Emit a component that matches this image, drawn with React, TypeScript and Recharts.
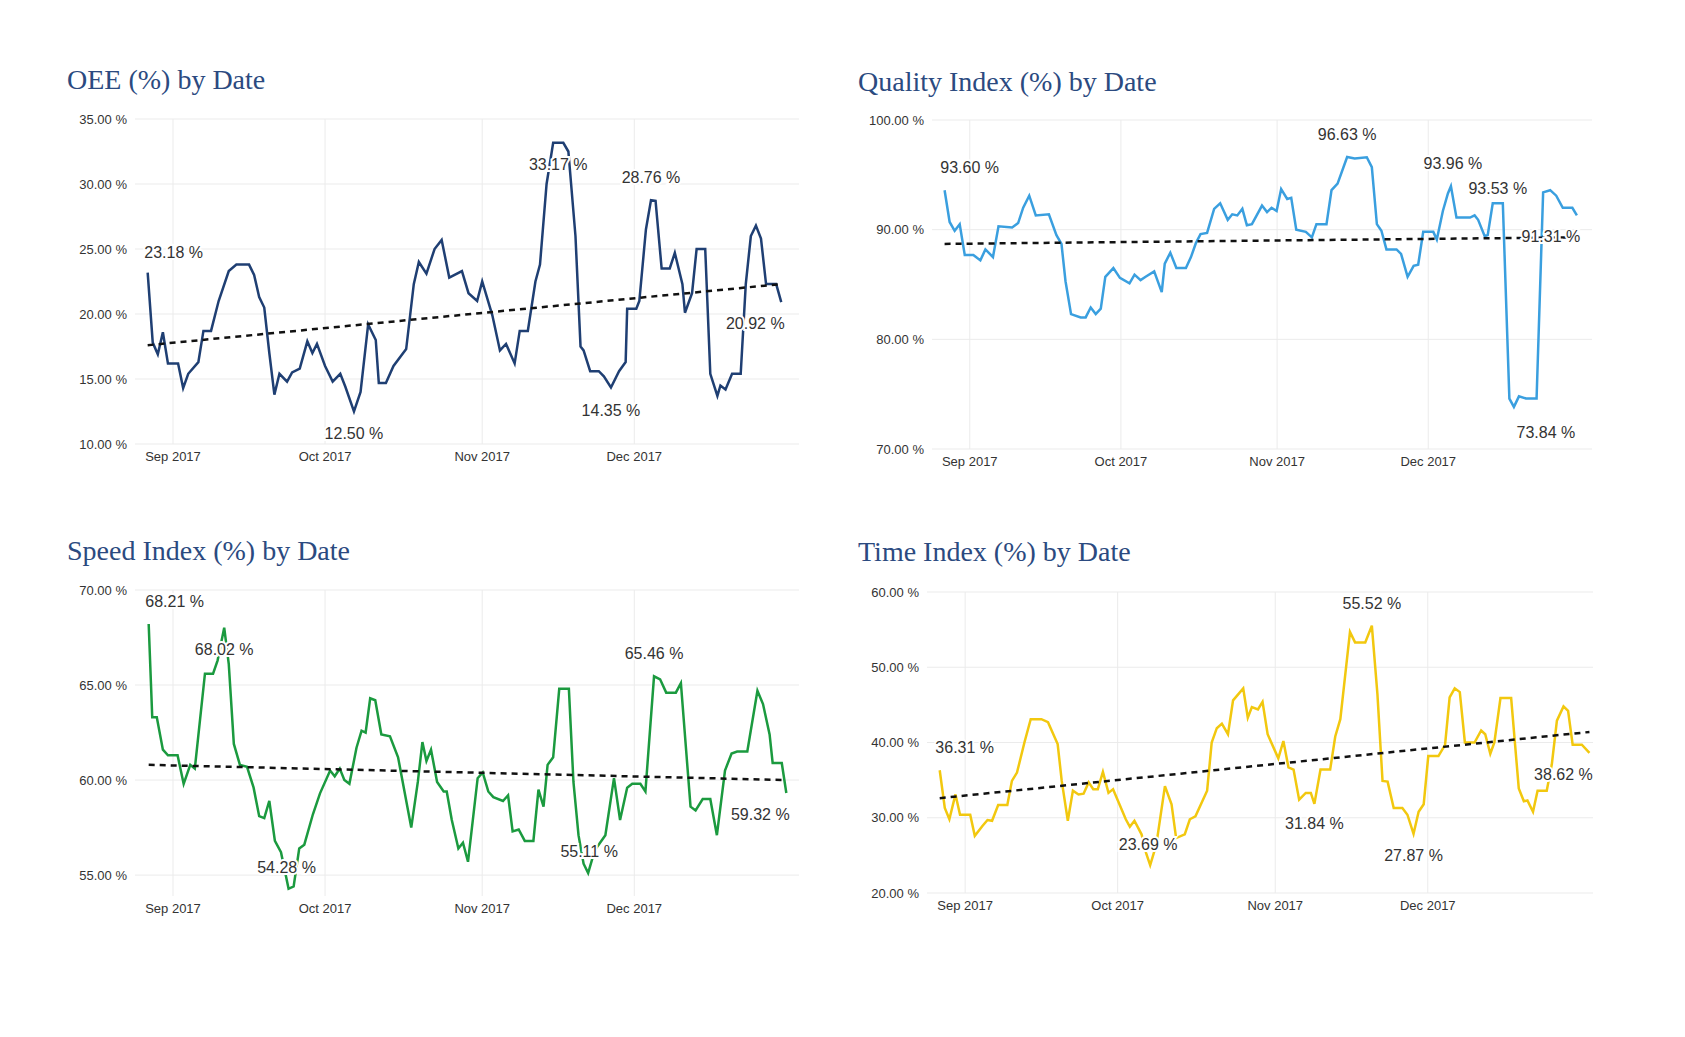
import { LineChart, Line, XAxis, YAxis, CartesianGrid, ReferenceDot, ReferenceLine } from 'recharts'

// day 0 = 27 Aug 2017
const monthTicks = [5, 35, 66, 96]
const monthLabels = ['Sep 2017', 'Oct 2017', 'Nov 2017', 'Dec 2017']

const oee = [
  [0, 23.18], [1, 17.8], [2, 16.9], [3, 18.6], [4, 16.2], [6, 16.2], [7, 14.3], [8, 15.4], [10, 16.3], [11, 18.7],
  [12.5, 18.7], [14, 21], [16, 23.3], [17.5, 23.8], [20, 23.8], [21, 23], [22, 21.3], [23, 20.5], [24, 17], [25, 13.8],
  [26, 15.4], [27.5, 14.8], [28.5, 15.5], [30, 15.8], [31.5, 17.9], [32.5, 17], [33.4, 17.7], [35, 16], [36.5, 14.8],
  [38, 15.4], [39, 14.4], [40.7, 12.5], [42, 14], [43.5, 19.2], [45, 18], [45.6, 14.7], [47, 14.7], [48.5, 16],
  [51, 17.3], [52.5, 22.3], [53.5, 24], [55, 23.1], [56.6, 25], [58, 25.7], [59.5, 22.8], [62, 23.3], [63.3, 21.6],
  [65, 21], [66, 22.5], [68, 19.9], [69.5, 17.2], [70.7, 17.7], [72.4, 16.2], [73.4, 18.7], [75, 18.7], [76.5, 22.5],
  [77.4, 23.8], [78.7, 30], [80, 33.17], [82, 33.17], [83, 32.5], [84.4, 26], [85.4, 17.5], [86, 17.2], [87.3, 15.6],
  [89, 15.6], [90, 15.2], [91.4, 14.35], [93, 15.6], [94.3, 16.3], [94.6, 20.4], [96.4, 20.4], [97, 21], [98.3, 26.5],
  [99.3, 28.76], [100.2, 28.7], [101.4, 23.5], [103, 23.5], [104, 24.7], [105.5, 22.3], [106, 20.1], [107.4, 21.6],
  [108.3, 25], [110, 25], [111, 15.4], [112.4, 13.7], [113, 14.5], [114, 14.2], [115.3, 15.4], [117, 15.4], [118, 22.3],
  [119, 26], [120, 26.8], [121, 25.8], [122, 22.3], [124, 22.3], [125, 20.92],
]
const oeeTrend = [17.6, 22.3]
const oeeNotes = [
  { d: 0, v: 23.18, text: '23.18 %', dx: 26, dy: -20 },
  { d: 40.7, v: 12.5, text: '12.50 %', dx: 0, dy: 22 },
  { d: 81, v: 33.17, text: '33.17 %', dx: 0, dy: 22 },
  { d: 99.3, v: 28.76, text: '28.76 %', dx: 0, dy: -22 },
  { d: 91.4, v: 14.35, text: '14.35 %', dx: 0, dy: 24 },
  { d: 125, v: 20.92, text: '20.92 %', dx: -26, dy: 22 },
]

const quality = [
  [0, 93.6], [1, 90.7], [2, 89.9], [3, 90.5], [4, 87.7], [5.7, 87.7], [7.1, 87.2], [8.1, 88.2], [9.6, 87.5], [10.7, 90.3],
  [13.4, 90.2], [14.6, 90.6], [15.6, 92], [16.8, 93.1], [18.1, 91.3], [20.7, 91.4], [22.2, 89.5], [23.2, 88.7], [24, 85.3],
  [25.1, 82.3], [27, 82], [28, 82], [29, 82.9], [30, 82.3], [31, 82.8], [31.9, 85.7], [33.5, 86.5], [34.8, 85.6],
  [36.7, 85.1], [37.7, 85.9], [38.9, 85.4], [39.9, 85.7], [41.6, 86.2], [43.1, 84.3], [43.7, 86.9], [44.8, 87.9],
  [46, 86.5], [47.9, 86.5], [48.9, 87.5], [49.9, 88.8], [50.8, 89.6], [52.1, 89.7], [53.5, 91.9], [54.7, 92.4],
  [56.2, 90.9], [57.1, 91.4], [58.1, 91.3], [59.1, 91.9], [60, 90.4], [61, 90.5], [63, 92.2], [64, 91.6], [64.9, 92],
  [65.9, 91.7], [66.8, 93.7], [68, 92.8], [68.8, 92.9], [69.8, 90], [71.7, 89.8], [72.9, 89.3], [73.8, 90.5],
  [75.8, 90.5], [76.8, 93.6], [78, 94.2], [79.9, 96.63], [81.4, 96.5], [83.8, 96.6], [84.8, 95.7], [85.8, 90.5],
  [86.7, 89.9], [87.7, 88.2], [89.7, 88.2], [90.6, 87.8], [91.9, 85.7], [93.1, 86.7], [94, 86.8], [95, 89.8], [97, 89.8],
  [97.7, 89.1], [98.9, 91.7], [99.9, 93.3], [100.5, 93.96], [101.6, 91.1], [104.3, 91.1], [105.2, 91.3], [105.9, 90.9],
  [107.2, 89.4], [107.8, 89.5], [108.8, 92.4], [110.8, 92.4], [112.1, 74.6], [113, 73.84], [114, 74.8], [115.4, 74.6],
  [117.5, 74.6], [118.8, 93.4], [120.2, 93.6], [121.4, 93.1], [122.7, 92], [124.6, 92], [125.5, 91.31],
]
const qualityTrend = [88.7, 89.3]
const qualityNotes = [
  { d: 0, v: 93.6, text: '93.60 %', dx: 25, dy: -22 },
  { d: 79.9, v: 96.63, text: '96.63 %', dx: 0, dy: -22 },
  { d: 100.5, v: 93.96, text: '93.96 %', dx: 2, dy: -22 },
  { d: 109.8, v: 92.4, text: '93.53 %', dx: 0, dy: -14 },
  { d: 113, v: 73.84, text: '73.84 %', dx: 32, dy: 26 },
  { d: 125.5, v: 91.31, text: '91.31 %', dx: -26, dy: 22 },
]

const speed = [
  [0.2, 68.21], [0.9, 63.3], [1.8, 63.3], [3, 61.6], [4, 61.3], [5.9, 61.3], [7.1, 59.8], [8.4, 60.8], [9.3, 60.6],
  [11.3, 65.6], [12.9, 65.6], [13.8, 66.3], [15.1, 68.02], [16, 66.1], [17, 61.9], [18.2, 60.8], [19.6, 60.7],
  [20.9, 59.6], [22, 58.1], [23, 58], [24, 58.9], [25.1, 56.8], [26.3, 56.2], [27.8, 54.28], [28.8, 54.4], [29.9, 56.4],
  [30.9, 56.6], [32.6, 58.2], [34, 59.3], [36, 60.5], [36.9, 60.2], [37.9, 60.6], [38.8, 60], [39.8, 59.8], [41.2, 61.7],
  [42.2, 62.6], [43, 62.5], [43.9, 64.3], [44.9, 64.2], [46.1, 62.4], [47.8, 62.3], [49.4, 61.2], [52, 57.5],
  [53.3, 59.9], [54.2, 62], [55, 61], [55.9, 61.6], [57.1, 59.9], [58.4, 59.4], [59, 59.4], [60, 57.9], [61.3, 56.4],
  [62.2, 56.7], [63.2, 55.7], [65.1, 60.1], [66.1, 60.4], [67.2, 59.4], [68.2, 59.1], [70.1, 58.9], [71.1, 59.2],
  [72, 57.3], [73.2, 57.4], [74.4, 56.8], [76.1, 56.8], [77.1, 59.5], [78.1, 58.6], [78.9, 60.8], [80, 61.2],
  [81.2, 64.8], [83.1, 64.8], [84, 59.9], [85, 57.1], [86, 55.6], [86.9, 55.11], [88.2, 56.3], [90.3, 57.1],
  [92, 60.1], [93.2, 57.9], [94.6, 59.6], [95.6, 59.8], [97.2, 59.8], [98.2, 59.4], [99.9, 65.46], [101.1, 65.3],
  [102.3, 64.6], [104.2, 64.6], [105.2, 65.1], [107.1, 58.6], [108.1, 58.4], [109.5, 59], [111, 59], [112.3, 57.1],
  [113.9, 60.5], [115.2, 61.4], [116.3, 61.5], [118.3, 61.5], [120.3, 64.7], [121.4, 64], [122.7, 62.4], [123.3, 60.9],
  [125.1, 60.9], [126, 59.32],
]
const speedTrend = [60.8, 60.0]
const speedNotes = [
  { d: 0.2, v: 68.21, text: '68.21 %', dx: 26, dy: -22 },
  { d: 15.1, v: 68.02, text: '68.02 %', dx: 0, dy: 22 },
  { d: 27.8, v: 54.28, text: '54.28 %', dx: -2, dy: -21 },
  { d: 86.9, v: 55.11, text: '55.11 %', dx: 1, dy: -21 },
  { d: 99.9, v: 65.46, text: '65.46 %', dx: 0, dy: -22 },
  { d: 126, v: 59.32, text: '59.32 %', dx: -26, dy: 22 },
]

const timeIdx = [
  [0, 36.31], [1, 31.3], [1.9, 29.8], [3.1, 33.1], [4, 30.4], [6, 30.4], [6.9, 27.6], [8.4, 28.9], [9.4, 29.7],
  [10.3, 29.6], [11.5, 31.7], [13.3, 31.7], [14.2, 34.9], [15.2, 36], [16.7, 40.1], [17.9, 43.1], [20, 43.1],
  [21.3, 42.7], [23.2, 39.8], [24, 34.9], [25.2, 29.6], [26.2, 33.6], [27.3, 33.1], [28.3, 33.2], [29.3, 34.7],
  [30.2, 33.8], [31.1, 33.8], [32.1, 36.1], [33.2, 33.3], [34.1, 33.8], [36.6, 29.8], [37.4, 28.8], [38.3, 29.6],
  [39.7, 27.8], [40.6, 25.3], [41.4, 23.69], [42.6, 26.4], [44.3, 34.2], [45.6, 31.8], [46.5, 27.3], [48.2, 27.8],
  [49.2, 29.8], [50.3, 30.2], [52.6, 33.6], [53.5, 40], [54.5, 41.9], [55.5, 42.5], [56.7, 41.1], [57.7, 45.6],
  [59.7, 47.2], [60.6, 43.3], [61.4, 44.7], [62.6, 44.4], [63.5, 45.4], [64.5, 41.1], [66.6, 37.9], [67.6, 40.2],
  [68.6, 36.7], [69.6, 36.4], [70.7, 32.4], [72, 33.3], [73, 33.3], [73.7, 31.84], [74.9, 36.4], [76.8, 36.4],
  [77.8, 40.8], [78.8, 43.1], [80.7, 54.7], [81.7, 53.3], [83.7, 53.3], [85, 55.52], [86.1, 46.4], [87.1, 34.9],
  [88.1, 34.8], [89.3, 31.3], [91, 31.3], [92, 30.4], [93.2, 27.87], [94.2, 30.8], [95.2, 31.8], [96.1, 38.2],
  [98.1, 38.2], [99.4, 39.7], [100.3, 46], [101.3, 47.2], [102.3, 46.7], [103.3, 40], [105.2, 40], [106.5, 41.6],
  [107.3, 41.1], [108.3, 38.5], [109.1, 40], [110.3, 45.9], [112.4, 45.9], [113.9, 33.9], [114.9, 32.2], [115.6, 32.3],
  [116.7, 30.8], [117.6, 33.6], [119.4, 33.6], [120.4, 37.1], [121.4, 42.9], [122.7, 44.8], [123.6, 44.2],
  [124.5, 39.7], [126.3, 39.7], [127.8, 38.62],
]
const timeTrend = [32.6, 41.4]
const timeNotes = [
  { d: 0, v: 36.31, text: '36.31 %', dx: 25, dy: -22 },
  { d: 41.4, v: 23.69, text: '23.69 %', dx: -2, dy: -20 },
  { d: 73.7, v: 31.84, text: '31.84 %', dx: 0, dy: 20 },
  { d: 85, v: 55.52, text: '55.52 %', dx: 0, dy: -22 },
  { d: 93.2, v: 27.87, text: '27.87 %', dx: 0, dy: 22 },
  { d: 127.8, v: 38.62, text: '38.62 %', dx: -26, dy: 22 },
]

const tickFont = { fontFamily: 'Liberation Sans, Arial, sans-serif', fontSize: 13, fill: '#333' }

function Note(props: any) {
  const { viewBox, text, dx, dy } = props
  const x = viewBox.x + dx
  const y = viewBox.y + dy
  return (
    <text x={x} y={y} dy={5} textAnchor='middle' fontFamily='Liberation Sans, Arial, sans-serif' fontSize={16}
      fill='#333' stroke='#fff' strokeWidth={4} paintOrder='stroke'>
      {text}
    </text>
  )
}

function Panel({ title, color, pts, trend, notes, yTicks, yMin, left, plotTop, plotBottom, plotLeft, plotRight, titleTop }: any) {
  const data = pts.map((p: number[]) => ({ d: p[0], v: p[1] }))
  const first = pts[0][0]
  const last = pts[pts.length - 1][0]
  const trendData = [{ d: first, t: trend[0] }, { d: last, t: trend[1] }]
  const yAxisW = 95
  const chartLeft = plotLeft - yAxisW
  const top = plotTop - 10
  return (
    <>
      <div style={{ position: 'absolute', left, top: titleTop, fontFamily: 'Liberation Serif, DejaVu Serif, serif', fontSize: 28, color: '#2b4a80', whiteSpace: 'nowrap' }}>
        {title}
      </div>
      <div style={{ position: 'absolute', left: chartLeft, top }}>
        <LineChart width={plotRight - chartLeft + 10} height={plotBottom - top + 30}
          margin={{ top: 10, right: 10, left: 0, bottom: 0 }}>
          <CartesianGrid stroke='#ebebeb' vertical={false} horizontalValues={yTicks} />
          {monthTicks.map((t) => (
            <ReferenceLine key={t} x={t} stroke='#ebebeb' />
          ))}
          <XAxis dataKey='d' type='number' domain={[-2.5, 128.5]} ticks={monthTicks} allowDataOverflow
            tickFormatter={(t: number) => monthLabels[monthTicks.indexOf(t)]} axisLine={false} tickLine={false}
            tick={tickFont} height={30} />
          <YAxis type='number' domain={[yMin ?? yTicks[0], yTicks[yTicks.length - 1]]} ticks={yTicks} width={yAxisW}
            tickFormatter={(t: number) => t.toFixed(2) + ' %'} axisLine={false} tickLine={false} tick={tickFont}
            allowDataOverflow />
          <Line data={data} dataKey='v' stroke={color} strokeWidth={2.5} dot={false} type='linear' isAnimationActive={false} />
          <Line data={trendData} dataKey='t' stroke='#111' strokeWidth={2.5} strokeDasharray='6 5' dot={false} isAnimationActive={false} />
          {notes.map((n: any, i: number) => (
            <ReferenceDot key={i} x={n.d} y={n.v} r={0} fill='none' stroke='none' ifOverflow='visible'
              label={<Note text={n.text} dx={n.dx} dy={n.dy} />} />
          ))}
        </LineChart>
      </div>
    </>
  )
}

export default function App() {
  return (
    <div style={{ position: 'absolute', left: 0, top: 0, width: 1685, height: 1037, background: '#fff', overflow: 'hidden' }}>
      <Panel title='OEE (%) by Date' color='#1f3f73' pts={oee} trend={oeeTrend} notes={oeeNotes}
        yTicks={[10, 15, 20, 25, 30, 35]} left={67} titleTop={64} plotTop={119} plotBottom={444} plotLeft={135} plotRight={799} />
      <Panel title='Quality Index (%) by Date' color='#3a9fdf' pts={quality} trend={qualityTrend} notes={qualityNotes}
        yTicks={[70, 80, 90, 100]} left={858} titleTop={66} plotTop={120} plotBottom={449} plotLeft={932} plotRight={1592} />
      <Panel title='Speed Index (%) by Date' color='#1b9a3f' pts={speed} trend={speedTrend} notes={speedNotes}
        yTicks={[55, 60, 65, 70]} yMin={53.9} left={67} titleTop={535} plotTop={590} plotBottom={896} plotLeft={135} plotRight={799} />
      <Panel title='Time Index (%) by Date' color='#f2c80f' pts={timeIdx} trend={timeTrend} notes={timeNotes}
        yTicks={[20, 30, 40, 50, 60]} left={858} titleTop={536} plotTop={592} plotBottom={893} plotLeft={927} plotRight={1593} />
    </div>
  )
}
